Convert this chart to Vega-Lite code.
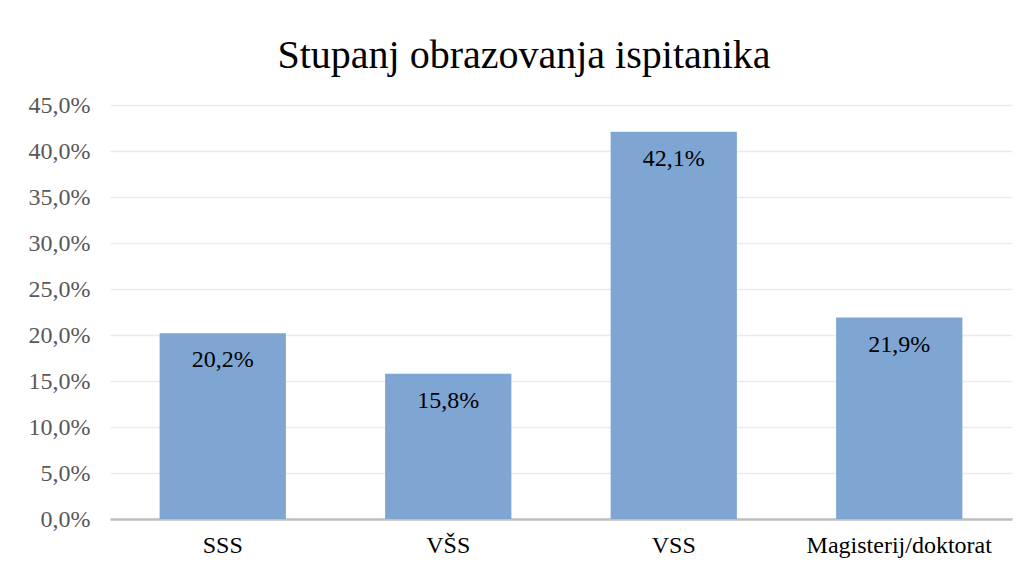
{
  "$schema": "https://vega.github.io/schema/vega-lite/v6.json",
  "autosize": "none",
  "padding": {"left": 110, "top": 105, "right": 14, "bottom": 52},
  "width": 902,
  "height": 414,
  "background": "white",
  "title": {
    "text": "Stupanj obrazovanja ispitanika",
    "font": "Liberation Serif",
    "fontSize": 40,
    "fontWeight": "normal",
    "color": "#000000",
    "anchor": "middle",
    "offset": 17,
    "dx": -37
  },
  "data": {
    "values": [
      {"category": "SSS", "value": 20.2},
      {"category": "VŠS", "value": 15.8},
      {"category": "VSS", "value": 42.1},
      {"category": "Magisterij/doktorat", "value": 21.9}
    ]
  },
  "transform": [
    {"calculate": "replace(format(datum.value, '.1f'), '.', ',') + '%'", "as": "label"}
  ],
  "encoding": {
    "x": {
      "field": "category",
      "type": "nominal",
      "sort": null,
      "scale": {"paddingInner": 0.44, "paddingOuter": 0.22},
      "axis": {
        "title": null,
        "labelAngle": 0,
        "labelFont": "Liberation Serif",
        "labelFontSize": 24,
        "labelColor": "#000000",
        "labelPadding": 14,
        "labelLimit": 300,
        "ticks": false,
        "domainColor": "#bfbfbf",
        "domainWidth": 2.5,
        "grid": false
      }
    },
    "y": {
      "field": "value",
      "type": "quantitative",
      "scale": {"domain": [0, 45], "nice": false},
      "axis": {
        "title": null,
        "values": [0, 5, 10, 15, 20, 25, 30, 35, 40, 45],
        "labelExpr": "replace(format(datum.value, '.1f'), '.', ',') + '%'",
        "labelFont": "Liberation Serif",
        "labelFontSize": 24,
        "labelColor": "#595959",
        "labelPadding": 20,
        "ticks": false,
        "domain": false,
        "gridColor": "#ebebeb",
        "gridWidth": 1.3
      }
    }
  },
  "layer": [
    {"mark": {"type": "bar", "color": "#7fa6d3"}},
    {
      "mark": {
        "type": "text",
        "baseline": "middle",
        "dy": 27,
        "font": "Liberation Serif",
        "fontSize": 24,
        "color": "#000000"
      },
      "encoding": {"text": {"field": "label"}}
    }
  ],
  "config": {"view": {"stroke": null}}
}
